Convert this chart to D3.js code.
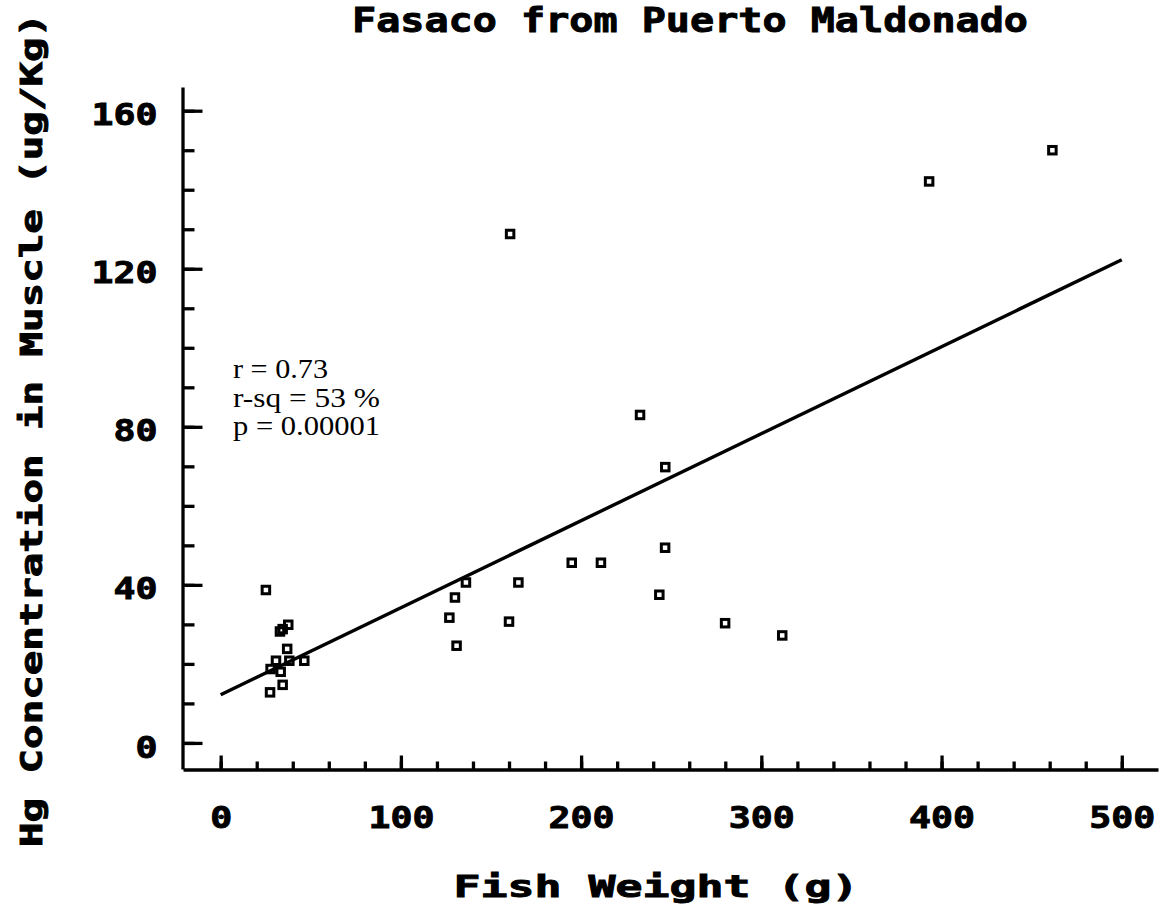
<!DOCTYPE html>
<html>
<head>
<meta charset="utf-8">
<script src="https://cdn.jsdelivr.net/npm/d3@7"></script>
<style>
    body { margin: 0; background: #fff; }
    svg { display: block; }
    .mono { font-family: "DejaVu Sans Mono", monospace; font-weight: bold; fill: #000; stroke: #000; stroke-width: 0.9px; }
    .serif { font-family: "Liberation Serif", "Times New Roman", serif; fill: #000; }
</style>
</head>
<body>
<div id="chart"></div>
<script>
    // fish weight (g) and Hg in muscle (ug/Kg)
    var weight = [25.1, 37.5, 34.4, 32.9, 36.9, 30.7, 38.1, 46.4, 27.7, 33.3, 34.4, 27.4,
        136.1, 130.0, 126.9, 130.9, 165.2, 160.0, 194.8, 211.0, 246.6, 243.4, 279.9, 311.6,
        160.6, 232.7, 246.7, 393.1, 461.5];
    var mercury = [38.7, 29.9, 28.8, 28.2, 23.8, 20.8, 20.8, 20.8, 18.7, 18.0, 14.7, 12.8,
        40.6, 36.8, 31.7, 24.6, 40.6, 30.7, 45.6, 45.6, 49.4, 37.5, 30.3, 27.2,
        128.8, 83.0, 69.8, 142.1, 150.0];

    // regression line ends
    var fitX = [0, 500];
    var fitY = [12.2, 122.3];

    var xMajor = [0, 100, 200, 300, 400, 500];
    var xMinor = d3.range(0, 501, 20);
    var yMajor = [0, 40, 80, 120, 160];
    var yMinor = d3.range(0, 161, 10);

    var stats = ["r = 0.73", "r-sq = 53 %", "p = 0.00001"];

    var width = 1161, height = 911;
    var charW = 22; // width of one tick-label character

    var svg = d3.select("#chart").append("svg")
        .attr("width", width)
        .attr("height", height);

    // scales run past the labelled range, like the axis lines do
    var x = d3.scaleLinear().domain([-20.9, 520.1]).range([183, 1158]);
    var y = d3.scaleLinear().domain([-6.6, 166]).range([769, 87]);

    // minor ticks first (no labels)
    svg.append("g")
        .attr("transform", "translate(0,769.5)")
        .call(d3.axisBottom(x).tickValues(xMinor).tickSize(-8).tickSizeOuter(0).tickFormat(""))
        .call(function (g) { g.select(".domain").remove(); });
    svg.append("g")
        .attr("transform", "translate(182.5,0)")
        .call(d3.axisLeft(y).tickValues(yMinor).tickSize(-12).tickSizeOuter(0).tickFormat(""))
        .call(function (g) { g.select(".domain").remove(); });

    // major ticks + labels
    var xAxis = svg.append("g")
        .attr("transform", "translate(0,769.5)")
        .call(d3.axisBottom(x).tickValues(xMajor).tickSize(-14).tickSizeOuter(0).tickPadding(37));
    var yAxis = svg.append("g")
        .attr("transform", "translate(182.5,0)")
        .call(d3.axisLeft(y).tickValues(yMajor).tickSize(-20).tickSizeOuter(0).tickPadding(25));

    svg.selectAll(".tick line, .domain")
        .attr("stroke", "#000")
        .attr("stroke-width", 3.3);

    svg.selectAll(".tick text")
        .attr("class", "mono")
        .attr("font-family", null)
        .attr("font-size", null)
        .attr("lengthAdjust", "spacingAndGlyphs")
        .attr("textLength", function () { return this.textContent.length * charW; })
        .style("font-size", "30px");
    yAxis.selectAll("text").attr("dy", "0.47em");

    // regression line
    svg.append("path")
        .datum(d3.zip(fitX, fitY))
        .attr("fill", "none")
        .attr("stroke", "#000")
        .attr("stroke-width", 3.4)
        .attr("d", d3.line().x(function (d) { return x(d[0]); }).y(function (d) { return y(d[1]); }));

    // hollow square markers
    svg.append("g").selectAll("rect")
        .data(d3.zip(weight, mercury))
        .enter().append("rect")
        .attr("x", function (d) { return x(d[0]) - 3.75; })
        .attr("y", function (d) { return y(d[1]) - 3.75; })
        .attr("width", 7.5)
        .attr("height", 7.5)
        .attr("fill", "none")
        .attr("stroke", "#000")
        .attr("stroke-width", 3);

    // stats text
    var statLen = [95, 147, 147];
    svg.append("g").selectAll("text")
        .data(stats)
        .enter().append("text")
        .attr("class", "serif")
        .attr("x", 233)
        .attr("y", function (d, i) { return 378 + i * 28.5; })
        .attr("textLength", function (d, i) { return statLen[i]; })
        .attr("lengthAdjust", "spacingAndGlyphs")
        .style("font-size", "28px")
        .text(function (d) { return d; });

    // title
    svg.append("text")
        .attr("class", "mono")
        .attr("x", 352)
        .attr("y", 32)
        .attr("textLength", 676)
        .attr("lengthAdjust", "spacingAndGlyphs")
        .style("font-size", "33px")
        .text("Fasaco from Puerto Maldonado");

    // x label
    svg.append("text")
        .attr("class", "mono")
        .attr("x", 656)
        .attr("y", 897)
        .attr("text-anchor", "middle")
        .attr("textLength", 405)
        .attr("lengthAdjust", "spacingAndGlyphs")
        .style("font-size", "30px")
        .text("Fish Weight (g)");

    // y label
    svg.append("text")
        .attr("class", "mono")
        .attr("transform", "translate(42,430) rotate(-90)")
        .attr("text-anchor", "middle")
        .attr("textLength", 834)
        .attr("lengthAdjust", "spacingAndGlyphs")
        .style("font-size", "30px")
        .text("Hg Concentration in Muscle (ug/Kg)");
</script>
</body>
</html>
